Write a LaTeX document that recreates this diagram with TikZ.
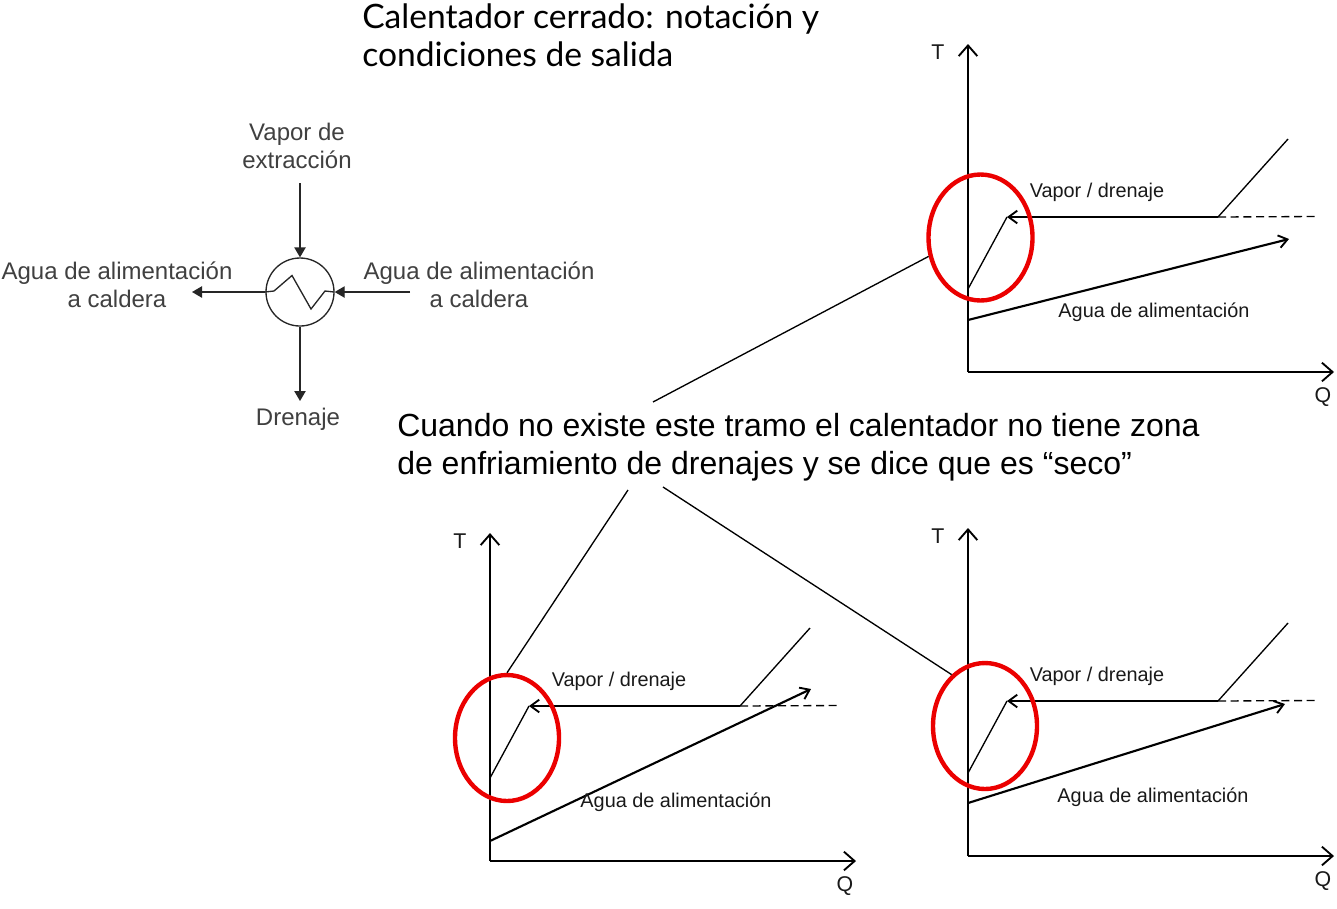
\documentclass[tikz,border=0pt]{standalone}
\usepackage{fontspec}
\setmainfont{Liberation Sans}
\newfontfamily\titlefont{Lato}
\usetikzlibrary{arrows.meta,shapes.geometric}
\tikzset{
  x=0.75pt,y=-0.75pt,
  axisline/.style={line width=1.5pt,-{Straight Barb[length=8pt,width=14pt,line width=1.4pt]}},
  flow/.style={line width=1.6pt,-{Straight Barb[length=6.5pt,width=9.5pt,line width=1.4pt]}},
  thinline/.style={line width=1pt},
  dashline/.style={line width=1pt,dash pattern=on 6pt off 3.5pt},
  redring/.style={draw=red!92!black,line width=3.3pt,ellipse,inner sep=0pt,minimum width=78pt,minimum height=94.5pt},
  lbl/.style={inner sep=0pt,font=\fontsize{14.9}{18}\selectfont,text=black!90},
  axlbl/.style={inner sep=0pt,font=\fontsize{16}{18}\selectfont,text=black!90},
  grey/.style={inner sep=0pt,align=center,text=black!75,font=\fontsize{18}{21}\selectfont},
  pipe/.style={line width=1pt,draw=black!85,-{Triangle[length=7.5pt,width=8.5pt]}},
}
\newcommand{\chart}[6]{%
\begin{scope}[shift={(#2,#3)}]
  \coordinate (#1o) at (0,0);
  \coordinate (#1top) at (0,-328);
  \coordinate (#1right) at (366,0);
  \coordinate (#1a) at (320,-233);
  \coordinate (#1b) at (250,-155);
  \coordinate (#1c) at (39,-155);
  \coordinate (#1d) at (0,-83);
  \coordinate (#1e) at (347,-155.5);
  \coordinate (#1ws) at (0,#4);
  \coordinate (#1we) at #5;
  \draw[axisline] (#1o) -- (#1top);
  \draw[axisline] (#1o) -- (#1right);
  \draw[thinline] (#1a) -- (#1b);
  \draw[flow] (#1b) -- (#1c);
  \draw[thinline] (#1c) -- (#1d);
  \draw[dashline] (#1b) -- (#1e);
  \draw[flow] (#1ws) -- (#1we);
  \node[axlbl] (#1T) at (-30,-320) {T};
  \node[axlbl] (#1Q) at (355,25) {Q};
  \node[lbl] (#1v) at (129,-179.5) {Vapor / drenaje};
  \node[redring] (#1ring) at #6 {};
\end{scope}}
\begin{document}
\begin{tikzpicture}
\useasboundingbox (0,0) rectangle (1337,908);
% heater
\node[circle,draw=black!85,line width=1pt,minimum size=51pt,inner sep=0pt] (hx) at (300,292) {};
\coordinate (zl) at (265,292);
\coordinate (zr) at (334,292);
\draw[line width=1pt,draw=black!85] (zl) -- (274,291) -- (292,275.5) -- (311,309) -- (325,291) -- (zr);
\node[grey] (vap) at (297,145.5) {Vapor de\\extracción};
\node[grey] (aguaL) at (117,284.5) {Agua de alimentación\\a caldera};
\node[grey] (aguaR) at (479,284.5) {Agua de alimentación\\a caldera};
\node[grey] (dren) at (298,419) {Drenaje};
\coordinate (vs) at (300,183);
\coordinate (rs) at (410,292);
\coordinate (le) at (192,292);
\coordinate (de) at (300,401);
\draw[pipe] (vs) -- (hx.north);
\draw[pipe] (rs) -- (hx.east);
\draw[pipe] (hx.west) -- (le);
\draw[pipe] (hx.south) -- (de);
% title + note
\node[inner sep=0pt,anchor=west,align=left,font=\titlefont\fontsize{25.2}{28.5}\selectfont] (title) at (362,35) {Calentador cerrado: notación y\\condiciones de salida};
\node[inner sep=0pt,anchor=west,align=left,font=\fontsize{24}{28.5}\selectfont] (note) at (397,447) {Cuando no existe este tramo el calentador no tiene zona\\de enfriamiento de drenajes y se dice que es “seco”};
% charts
\chart{A}{968}{372}{-52}{(321,-133)}{(12.5,-134.5)}
\chart{B}{490}{861}{-20}{(321,-172)}{(17,-123)}
\chart{C}{968}{856}{-53}{(317,-152)}{(17,-130)}
\node[lbl] (Aw) at (1154,312) {Agua de alimentación};
\node[lbl] (Bw) at (676,802) {Agua de alimentación};
\node[lbl] (Cw) at (1153,797) {Agua de alimentación};
% leaders
\coordinate (n1) at (653,402);
\coordinate (n2) at (628,490);
\coordinate (n3) at (663,487);
\draw[thinline] (Aring.200) -- (n1);
\draw[thinline] (n2) -- (Bring.north);
\draw[thinline] (n3) -- (Cring.123);
\end{tikzpicture}
\end{document}
